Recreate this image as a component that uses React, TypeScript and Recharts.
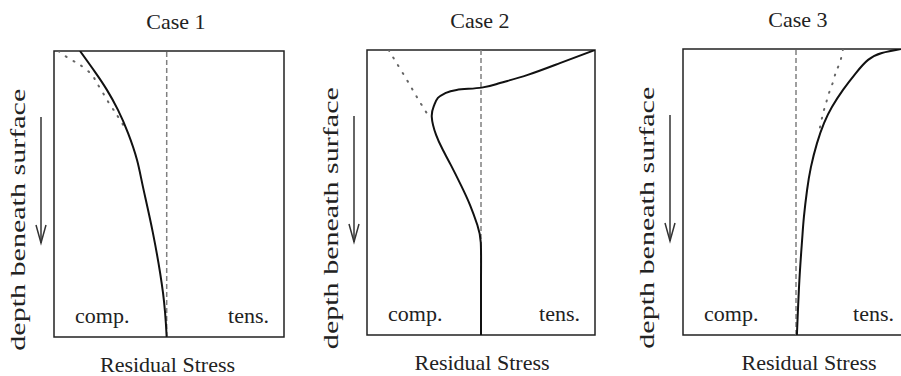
import { LineChart, Line, XAxis, YAxis, ReferenceLine, ReferenceArea } from 'recharts';

// depth: 0 = surface, 100 = bottom of the plot; stress: 0 = dashed zero line (comp. < 0 < tens.)
const case1Depth = [0, 7.3, 13.6, 20.6, 28.7, 38.1, 47.6, 63.6, 84.6, 100];
const case1Stress = [-37.7, -31.2, -26, -21.2, -16.8, -12.9, -10.3, -6, -1.6, 0];
const case1RefDepth = [0, 1.7, 3.8, 5.6, 8.4, 11.2, 14.7, 18.2, 21.3, 24.1, 28];
const case1RefStress = [-47, -44.2, -39.9, -36.4, -32.5, -30.3, -27.7, -25.1, -22.5, -20.3, -17.2];

const case2Depth = [0, 4.6, 8.8, 11.6, 13.2, 14, 15.2, 16.8, 19.5, 23.4, 29.8, 35.1, 40.4, 47.4, 54.4, 61.4, 67.5, 80, 100];
const case2Stress = [50, 34.6, 20.2, 8.3, 0.3, -10.7, -15.8, -18.9, -20.6, -21.6, -19.7, -16.7, -13.2, -8.8, -4.8, -1.6, -0.1, 0, 0];
const case2RefDepth = [0, 4.2, 10.5, 17.2, 23.9];
const case2RefStress = [-40.5, -37.3, -32.5, -27.6, -22.4];

const case3Depth = [0, 1.4, 3.8, 8.4, 14.3, 20.3, 25.9, 32.9, 41.3, 49.3, 58.7, 66.8, 80.8, 100];
const case3Stress = [46.5, 38, 31.9, 26.5, 20.8, 15.9, 12.4, 9.3, 6.6, 4.9, 3.5, 2.7, 1.5, 0.4];
const case3RefDepth = [0, 4.5, 8, 11.5, 15.4, 18.9, 22.4, 26, 30];
const case3RefStress = [20.8, 19.5, 17.7, 16.4, 14.6, 13.3, 12, 11, 9.8];

const titles = ['Case 1', 'Case 2', 'Case 3'];

const toPoints = (depth: number[], stress: number[]) => depth.map((d, i) => ({ d, s: stress[i] }));

const FONT = '"Liberation Serif", "Times New Roman", serif';

const panels = [
  {
    left: 0, width: 300, domain: [-49, 51],
    margin: { top: 51, right: 16, bottom: 39, left: 54 },
    solid: toPoints(case1Depth, case1Stress), dotted: toPoints(case1RefDepth, case1RefStress),
    titleDx: 7, labelDx: -1.5,
  },
  {
    left: 300, width: 300, domain: [-50, 50],
    margin: { top: 50, right: 5, bottom: 41, left: 67 },
    solid: toPoints(case2Depth, case2Stress), dotted: toPoints(case2RefDepth, case2RefStress),
    titleDx: -1, labelDx: 1,
  },
  {
    left: 600, width: 320, domain: [-50, 50],
    margin: { top: 49, right: 11, bottom: 41, left: 83 },
    solid: toPoints(case3Depth, case3Stress), dotted: toPoints(case3RefDepth, case3RefStress),
    titleDx: 2, labelDx: 13,
  },
];

// texts and the depth arrow around one panel box
function Frame({ viewBox, title, titleDx, labelDx }: any) {
  const { x, y, width, height } = viewBox;
  const bottom = y + height;
  const right = x + width;
  const ax = x - 13;
  const ay1 = y + 66;
  const ay2 = y + 192;
  const txt = { fontFamily: FONT, fontSize: 22, fill: '#222' };
  return (
    <g>
      <text {...txt} x={x + width / 2 + titleDx} y={y - 22} textAnchor="middle">{title}</text>
      <text {...txt} x={x + width / 2 + labelDx} y={bottom + 35} textAnchor="middle">Residual Stress</text>
      <text {...txt} x={x + 21} y={bottom - 14}>comp.</text>
      <text {...txt} x={right - 15} y={bottom - 14} textAnchor="end">tens.</text>
      <text
        {...txt}
        x={0}
        y={0}
        transform={`translate(${x - 29},${y + height * 0.59}) rotate(-90)`}
        textAnchor="middle"
        textLength={262}
        lengthAdjust="spacingAndGlyphs"
      >
        depth beneath surface
      </text>
      <line x1={ax} y1={ay1} x2={ax} y2={ay2} stroke="#333" strokeWidth={1.5} />
      <polyline
        points={`${ax - 5},${ay2 - 18} ${ax},${ay2} ${ax + 5},${ay2 - 18}`}
        fill="none"
        stroke="#333"
        strokeWidth={1.5}
      />
    </g>
  );
}

export default function App() {
  return (
    <div style={{ position: 'absolute', left: 0, top: 0, width: 901, height: 376, overflow: 'hidden', background: '#fff' }}>
      {panels.map((p, i) => (
        <div key={titles[i]} style={{ position: 'absolute', left: p.left, top: 0 }}>
          <LineChart width={p.width} height={376} margin={p.margin}>
            <XAxis dataKey="s" type="number" domain={p.domain} allowDataOverflow hide />
            <YAxis dataKey="d" type="number" domain={[0, 100]} reversed allowDataOverflow hide />
            <ReferenceArea
              x1={p.domain[0]}
              x2={p.domain[1]}
              y1={0}
              y2={100}
              fill="none"
              stroke="#222"
              strokeWidth={1.5}
              fillOpacity={0}
              label={(lp: any) => <Frame {...lp} title={titles[i]} titleDx={p.titleDx} labelDx={p.labelDx} />}
            />
            <ReferenceLine x={0} stroke="#808080" strokeWidth={1.5} strokeDasharray="5 3" />
            <Line
              data={p.dotted}
              dataKey="d"
              type="natural"
              stroke="#666"
              strokeWidth={2}
              strokeDasharray="1 8"
              strokeLinecap="round"
              dot={false}
              isAnimationActive={false}
            />
            <Line
              data={p.solid}
              dataKey="d"
              type="natural"
              stroke="#111"
              strokeWidth={2}
              dot={false}
              isAnimationActive={false}
            />
          </LineChart>
        </div>
      ))}
    </div>
  );
}
